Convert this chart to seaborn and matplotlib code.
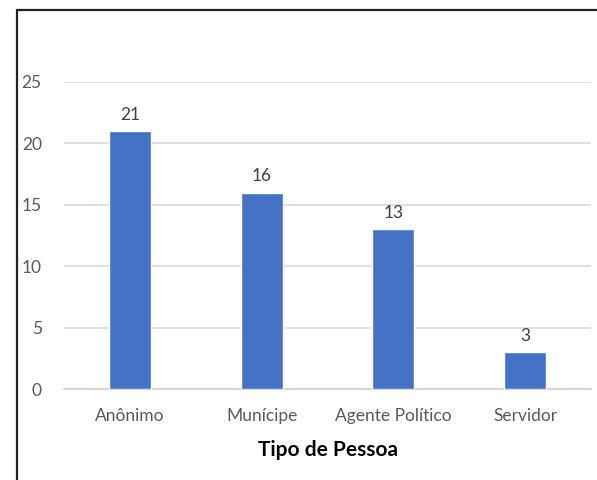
import numpy as np
import pandas as pd
import matplotlib
matplotlib.use("Agg")
import matplotlib.pyplot as plt
from matplotlib.lines import Line2D
import seaborn as sns

categorias = ["Anônimo", "Munícipe", "Agente Político", "Servidor"]
quantidade = [21, 16, 13, 3]
yticks = [0, 5, 10, 15, 20, 25]

df = pd.DataFrame({"tipo": categorias, "qtd": quantidade})

sns.set_theme(style="white")
plt.rcParams["font.family"] = ["Lato", "DejaVu Sans"]

W, H = 597, 480
fig = plt.figure(figsize=(W / 100, H / 100), dpi=100)
ax = fig.add_axes([64 / W, 1 - 389 / H, (591 - 64) / W, (389 - 82) / H])

sns.barplot(data=df, x="tipo", y="qtd", color="#4472C4", width=0.32,
            saturation=1, ax=ax, zorder=3)
ax.bar_label(ax.containers[0], fmt="%d", padding=6, fontsize=12.5, color="#404040")

ax.set_ylim(0, 25)
ax.set_yticks(yticks)
ax.yaxis.grid(True, color="#d9d9d9", lw=1.2, zorder=0)
ax.set_axisbelow(True)
for s in ["top", "right", "left"]:
    ax.spines[s].set_visible(False)
ax.spines["bottom"].set_color("#d0d0d0")
ax.spines["bottom"].set_linewidth(1.2)
ax.tick_params(axis="both", length=0, labelsize=12.5, labelcolor="#595959")
ax.tick_params(axis="y", pad=16)
ax.tick_params(axis="x", pad=14)
ax.set_ylabel("")
ax.set_xlabel("Tipo de Pessoa", fontsize=15, fontweight="bold", color="black", labelpad=11)

# chart border (left and top edges visible)
fig.add_artist(Line2D([17 / W, 17 / W], [0, 1 - 10 / H], transform=fig.transFigure,
                      color="#222222", lw=1.6))
fig.add_artist(Line2D([17 / W, 1], [1 - 10 / H, 1 - 10 / H], transform=fig.transFigure,
                      color="#222222", lw=1.6))

fig.savefig("out.png", dpi=100)
